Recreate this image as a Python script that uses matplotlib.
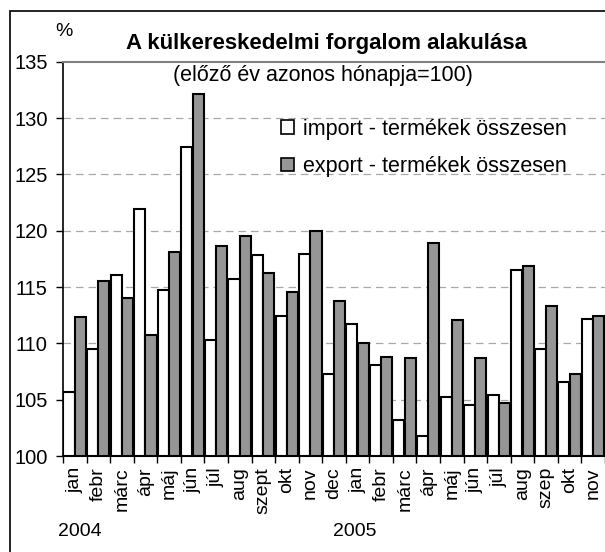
import matplotlib
matplotlib.use('Agg')
import matplotlib.pyplot as plt
import matplotlib.patches as mpatches
import numpy as np

plt.rcParams['font.family'] = ['Liberation Sans', 'DejaVu Sans']

####################
# Data
months = ['jan', 'febr', 'márc', 'ápr', 'máj', 'jún', 'júl', 'aug', 'szept', 'okt', 'nov', 'dec',
          'jan', 'febr', 'márc', 'ápr', 'máj', 'jún', 'júl', 'aug', 'szep', 'okt', 'nov']
years = ['2004', '2005']
year_xpos = [80, 355]  # pixel centres of the year labels

import_vals = [105.7, 109.5, 116.1, 121.9, 114.7, 127.4, 110.3, 115.7, 117.8, 112.4, 117.9, 107.3,
               111.7, 108.1, 103.2, 101.8, 105.2, 104.5, 105.4, 116.5, 109.5, 106.6, 112.2]
export_vals = [112.3, 115.5, 114.0, 110.7, 118.1, 132.1, 118.6, 119.5, 116.2, 114.6, 120.0, 113.8,
               110.0, 108.8, 108.7, 118.9, 112.1, 108.7, 104.7, 116.9, 113.3, 107.3, 112.4]

labels = ['import - termékek összesen', 'export - termékek összesen']
yticks = [100, 105, 110, 115, 120, 125, 130, 135]

FS = 14

####################
# Plot
fig = plt.figure(figsize=(6.05, 5.52), dpi=100)
ax = fig.add_axes([63/605, 1-456/552, 542/605, (456-61.7)/552])

x = np.arange(len(months))
w = 0.47
ax.bar(x - 0.245, np.array(import_vals) - 100, w, bottom=100, color='white',
       edgecolor='black', linewidth=1.5, zorder=3)
ax.bar(x + 0.235, np.array(export_vals) - 100, w, bottom=100, color='#969696',
       edgecolor='black', linewidth=1.5, zorder=3)

ax.set_xlim(-0.5, len(months) - 0.5)
ax.set_ylim(100, 135)
ax.set_yticks(yticks)
ax.set_yticklabels([str(v) for v in yticks], fontsize=14.5)
for v in yticks[1:-1]:
    ax.axhline(v, color='#a8a8a8', lw=0.9, ls=(0, (6, 4)), zorder=1)

ax.set_xticks(x)
ax.set_xticklabels(months, rotation=90, fontsize=FS)
ax.tick_params(axis='x', which='major', length=0, pad=8)
ax.set_xticks(np.arange(-0.5, len(months)), minor=True)
ax.tick_params(axis='x', which='minor', length=5, width=1, color='black')
ax.tick_params(axis='y', length=5, width=1, pad=6)

ax.spines['right'].set_visible(False)
ax.spines['top'].set_color('#808080')
ax.spines['top'].set_linewidth(1.5)
ax.spines['left'].set_linewidth(1.2)
ax.spines['bottom'].set_linewidth(1.5)

# legend
handles = [mpatches.Patch(facecolor='white', edgecolor='black', lw=1.2),
           mpatches.Patch(facecolor='#969696', edgecolor='black', lw=1.2)]
ax.legend(handles, labels, loc='upper left', bbox_to_anchor=(0.387, 0.877), frameon=False,
          fontsize=15.5, handlelength=0.6, handleheight=0.6, handletextpad=0.4,
          labelspacing=0.75, borderaxespad=0)

# titles
fig.text(326/605, 1-44/552, 'A külkereskedelmi forgalom alakulása', fontsize=16,
         fontweight='bold', ha='center', va='center')
fig.text(323/605, 1-75/552, '(előző év azonos hónapja=100)', fontsize=15.5,
         ha='center', va='center')
fig.text(64/605, 1-31/552, '%', fontsize=FS, ha='center', va='center')

for yr, xp in zip(years, year_xpos):
    fig.text(xp/605, 1-531/552, yr, fontsize=FS, ha='center', va='center')

# outer frame
fig.patches.append(mpatches.Rectangle((9.5/605, -0.1), 2, 1.1 - 11/552, transform=fig.transFigure,
                                      fill=False, edgecolor='black', lw=1.2))

fig.savefig('out.png', dpi=100)
